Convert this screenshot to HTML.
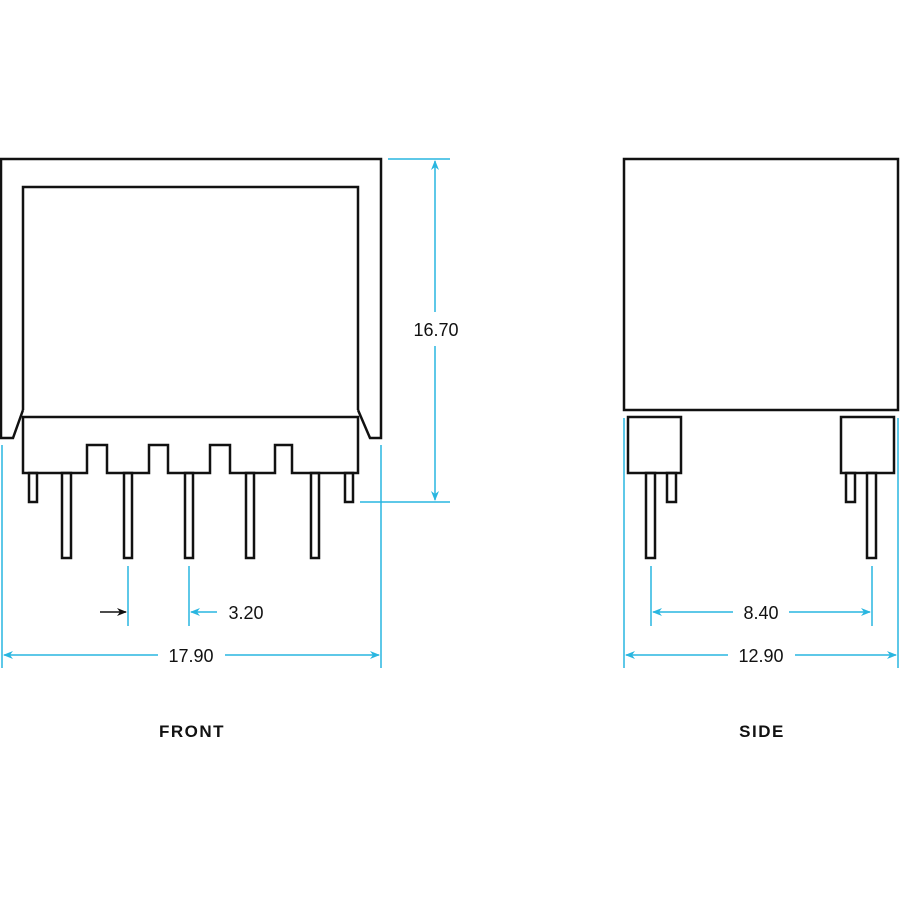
<!DOCTYPE html>
<html><head><style>html,body{margin:0;padding:0;background:#fff}svg{display:block}</style></head>
<body>
<svg width="900" height="900" viewBox="0 0 900 900" xmlns="http://www.w3.org/2000/svg">
<defs>
<marker id="a" markerWidth="10" markerHeight="8" refX="9" refY="4" orient="auto" markerUnits="userSpaceOnUse"><path d="M0,0 L10,4 L0,8 L3,4 Z" fill="#29b6e0"/></marker>
<marker id="k" markerWidth="10" markerHeight="8" refX="9" refY="4" orient="auto" markerUnits="userSpaceOnUse"><path d="M0,0 L10,4 L0,8 L3,4 Z" fill="#111"/></marker>
</defs>
<g fill="none" stroke="#111" stroke-width="2.5" stroke-linejoin="miter">
<path d="M23,410 L23,187 L358,187 L358,410"/>
<path d="M23,410 L13,438 L1,438 L1,159 L381,159 L381,438 L370,438 L358,410"/>
<path d="M23,417 L358,417 L358,473 L292,473 L292,445 L275,445 L275,473 L230,473 L230,445 L210,445 L210,473 L168,473 L168,445 L149,445 L149,473 L107,473 L107,445 L87,445 L87,473 L23,473 Z"/>
<rect x="29" y="473" width="8" height="29"/>
<rect x="345" y="473" width="8" height="29"/>
<rect x="62" y="473" width="9" height="85"/>
<rect x="124" y="473" width="8" height="85"/>
<rect x="185" y="473" width="8" height="85"/>
<rect x="246" y="473" width="8" height="85"/>
<rect x="311" y="473" width="8" height="85"/>
<rect x="624" y="159" width="274" height="251"/>
<rect x="628" y="417" width="53" height="56"/>
<rect x="841" y="417" width="53" height="56"/>
<rect x="646" y="473" width="9" height="85"/>
<rect x="667" y="473" width="9" height="29"/>
<rect x="846" y="473" width="9" height="29"/>
<rect x="867" y="473" width="9" height="85"/>
</g>
<g stroke="#29b6e0" stroke-width="1.5" fill="none">
<line x1="388" y1="159" x2="450" y2="159"/>
<line x1="360" y1="502" x2="450" y2="502"/>
<line x1="435" y1="312" x2="435" y2="161" marker-end="url(#a)"/>
<line x1="435" y1="346" x2="435" y2="500" marker-end="url(#a)"/>
<line x1="2" y1="445" x2="2" y2="668"/>
<line x1="381" y1="445" x2="381" y2="668"/>
<line x1="158" y1="655" x2="4" y2="655" marker-end="url(#a)"/>
<line x1="225" y1="655" x2="379" y2="655" marker-end="url(#a)"/>
<line x1="128" y1="566" x2="128" y2="626"/>
<line x1="189" y1="566" x2="189" y2="626"/>
<line x1="217" y1="612" x2="191" y2="612" marker-end="url(#a)"/>
<line x1="624" y1="418" x2="624" y2="668"/>
<line x1="898" y1="418" x2="898" y2="668"/>
<line x1="728" y1="655" x2="626" y2="655" marker-end="url(#a)"/>
<line x1="795" y1="655" x2="896" y2="655" marker-end="url(#a)"/>
<line x1="651" y1="566" x2="651" y2="626"/>
<line x1="872" y1="566" x2="872" y2="626"/>
<line x1="733" y1="612" x2="653" y2="612" marker-end="url(#a)"/>
<line x1="789" y1="612" x2="870" y2="612" marker-end="url(#a)"/>
</g>
<line x1="100" y1="612" x2="126" y2="612" stroke="#111" stroke-width="1.5" marker-end="url(#k)"/>
<g font-family="Liberation Sans, sans-serif" font-size="18" fill="#111" text-anchor="middle">
<text x="436" y="336">16.70</text>
<text x="191" y="662">17.90</text>
<text x="246" y="619">3.20</text>
<text x="761" y="619">8.40</text>
<text x="761" y="662">12.90</text>
</g>
<g font-family="Liberation Sans, sans-serif" font-size="17" font-weight="bold" fill="#111" text-anchor="middle" letter-spacing="1.5">
<text x="192" y="737">FRONT</text>
<text x="762" y="737">SIDE</text>
</g>
</svg>
</body></html>
